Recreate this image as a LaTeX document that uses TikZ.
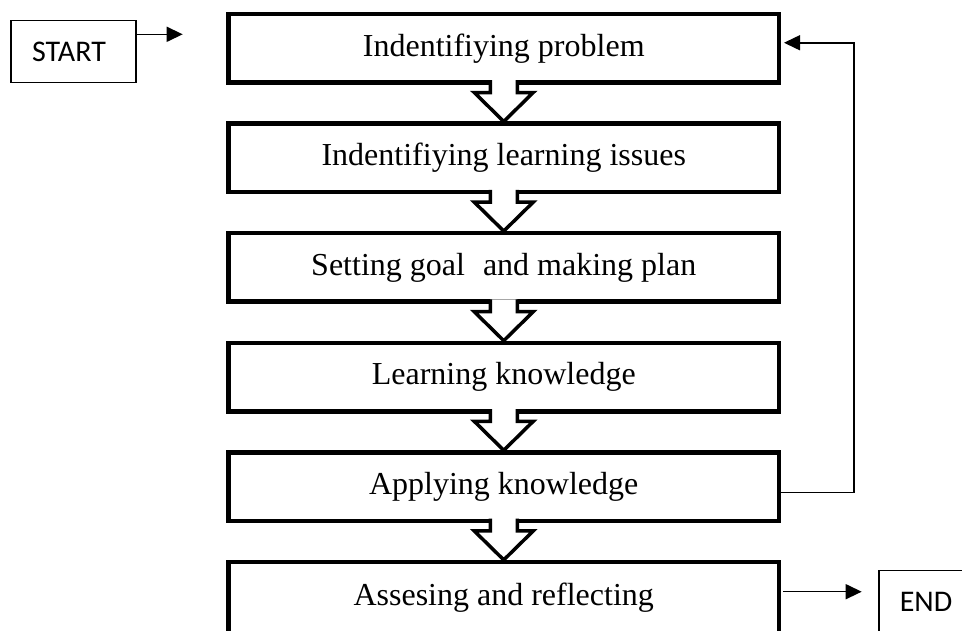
\documentclass[tikz,border=0pt]{standalone}
\usepackage{fontspec}
\setmainfont{Liberation Serif}
\newfontfamily\calib{Carlito}
\usetikzlibrary{arrows.meta}
\newcommand\hollowarrow[1]{%
  \begin{scope}[shift={(#1.south)}]
    \fill[white] (-13.5,-2.3) -- (-13.5,10) -- (-29.5,10) -- (0,39) -- (29.5,10) -- (13.5,10) -- (13.5,-2.3) -- cycle;
    \draw[hollow] (-13.5,-2.3) -- (-13.5,10) -- (-29.5,10) -- (0,39) -- (29.5,10) -- (13.5,10) -- (13.5,-2.3);
  \end{scope}}
\begin{document}
\begin{tikzpicture}[x=1pt,y=-1pt,
  stepbox/.style={draw, line width=4.5pt, minimum width=550.5pt, minimum height=68.5pt,
    inner sep=0pt, outer sep=0pt, font=\fontsize{32}{36}\selectfont},
  termbox/.style={draw, line width=1.5pt, minimum width=125pt, minimum height=62pt,
    inner sep=0pt, outer sep=0pt, font=\calib\fontsize{30}{34}\selectfont},
  conn/.style={line width=1.5pt, -{Triangle[length=16pt,width=15pt]}},
  hollow/.style={line width=3.5pt, line join=miter}]
\useasboundingbox (0,0) rectangle (962,630);
\clip (0,0) rectangle (962,630);

\node[stepbox] (b1) at (503.75,48.25) {Indentifiying problem};
\node[stepbox] (b2) at (503.75,157.85) {Indentifiying learning issues};
\node[stepbox] (b3) at (503.75,267.45) {Setting goal\hspace{10pt} and making plan};
\node[stepbox] (b4) at (503.75,377.05) {Learning knowledge};
\node[stepbox] (b5) at (503.75,486.65) {Applying knowledge};
\node[stepbox, minimum height=72pt] (b6) at (503.75,598) {Assesing and reflecting};

\foreach \n in {b1,b2,b3,b4,b5}{\hollowarrow{\n}}

\node[termbox] (start) at (73.5,51.7) {\hspace*{-9pt}START};
\node[termbox, minimum width=94pt] (end) at (926,601.7) {END};

\coordinate (sa) at (182.7,34.3);
\draw[conn] ([yshift=17.4pt]start.east) -- (sa);

\coordinate (t1) at ([xshift=5pt,yshift=5.5pt]b1.east);
\coordinate (fbx) at (854,0);
\draw[conn] ([yshift=-6pt]b5.east) -| (fbx |- t1) -- (t1);

\coordinate (ea) at (861.7,591.7);
\draw[conn] ([xshift=4pt,yshift=6.3pt]b6.east) -- (ea);
\end{tikzpicture}
\end{document}
